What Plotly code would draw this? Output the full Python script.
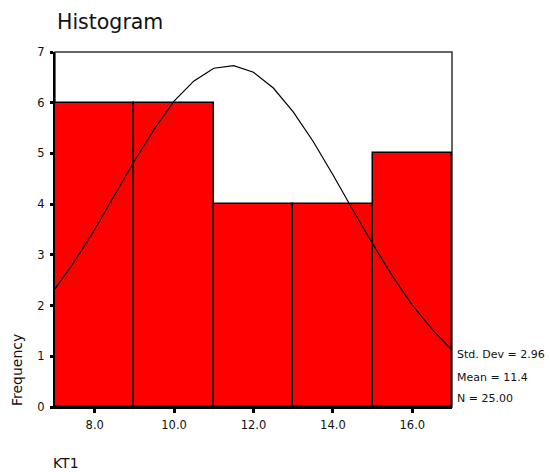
import plotly.graph_objects as go

# ---- data ----
bin_centers = [8, 10, 12, 14, 16]
frequencies = [6, 6, 4, 4, 5]
bin_width = 2

curve_x = [7.0, 7.5, 8.0, 8.5, 9.0, 9.5, 10.0, 10.5, 11.0, 11.5, 12.0,
           12.5, 13.0, 13.5, 14.0, 14.5, 15.0, 15.5, 16.0, 16.5, 17.0]
curve_y = [2.33, 2.88, 3.50, 4.17, 4.85, 5.48, 6.03, 6.43, 6.68, 6.73, 6.60,
           6.29, 5.82, 5.24, 4.58, 3.89, 3.22, 2.58, 2.01, 1.53, 1.12]

x_tickvals = [8, 10, 12, 14, 16]
x_ticktext = ["8.0", "10.0", "12.0", "14.0", "16.0"]
y_tickvals = [0, 1, 2, 3, 4, 5, 6, 7]

stats_lines = ["Std. Dev = 2.96", "Mean = 11.4", "N = 25.00"]

FONT = "DejaVu Sans"

fig = go.Figure()
fig.add_trace(go.Bar(
    x=bin_centers, y=frequencies, width=[bin_width] * len(bin_centers),
    marker=dict(color="#ff0000", line=dict(color="black", width=1.5)),
    hoverinfo="x+y", showlegend=False,
))
fig.add_trace(go.Scatter(
    x=curve_x, y=curve_y, mode="lines",
    line=dict(color="black", width=1.2), showlegend=False,
))

W, H = 550, 472
ml, mr, mt, mb = 55, 98, 52, 65
ph = H - mt - mb

def py(pix):
    # pixel y (from top) -> paper y
    return (H - mb - pix) / ph

fig.update_layout(
    width=W, height=H,
    margin=dict(l=ml, r=mr, t=mt, b=mb, pad=0),
    paper_bgcolor="white", plot_bgcolor="white",
    bargap=0,
    font=dict(family=FONT, color="#111111", size=11),
    xaxis=dict(
        range=[7, 17], tickvals=x_tickvals, ticktext=x_ticktext,
        showgrid=False, zeroline=False,
        showline=True, linecolor="black", linewidth=1.5,
        ticks="outside", ticklen=4, tickwidth=3, tickcolor="black",
        tickfont=dict(size=11.5, family=FONT), ticklabelstandoff=2,
    ),
    yaxis=dict(
        range=[0, 7], tickvals=y_tickvals,
        showgrid=False, zeroline=False,
        showline=True, linecolor="black", linewidth=2,
        ticks="outside", ticklen=3, tickwidth=3, tickcolor="black",
        tickfont=dict(size=11.5, family=FONT), ticklabelstandoff=3,
    ),
    shapes=[dict(type="rect", xref="paper", yref="paper",
                 x0=0, x1=1, y0=0, y1=1,
                 line=dict(color="#333333", width=1.5), layer="below")],
)

annotations = [
    dict(text="Histogram", xref="paper", yref="paper", x=0, y=py(22),
         xanchor="left", yanchor="middle", showarrow=False,
         font=dict(size=20.5, family=FONT, color="#111111")),
    dict(text="Frequency", xref="paper", yref="paper",
         x=-(ml - 17) / (W - ml - mr), y=py(370),
         xanchor="center", yanchor="middle", textangle=-90, showarrow=False,
         font=dict(size=14, family=FONT, color="#111111")),
    dict(text="KT1", xref="paper", yref="paper",
         x=-(ml - 51) / (W - ml - mr), y=py(463),
         xanchor="left", yanchor="middle", showarrow=False,
         font=dict(size=14, family=FONT, color="#111111")),
]
for txt, ypix in zip(stats_lines, [354, 377, 398]):
    annotations.append(dict(
        text=txt, xref="paper", yref="paper",
        x=1 + 3 / (W - ml - mr), y=py(ypix),
        xanchor="left", yanchor="middle", showarrow=False,
        font=dict(size=11, family=FONT, color="#111111")))
fig.update_layout(annotations=annotations)

fig.write_html("out.html", config={"displayModeBar": False},
               post_script="document.body.style.margin='0';document.body.style.overflow='hidden';")
